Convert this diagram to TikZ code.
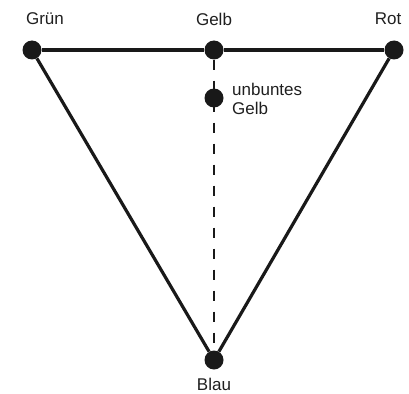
\documentclass[tikz,border=0pt]{standalone}
\usepackage{fontspec}
\setmainfont{Liberation Sans}
\usepackage{tikz}

\begin{document}
\begin{tikzpicture}[x=1pt, y=-1pt, every node/.style={font=\fontsize{17}{18.5}\selectfont, text=black!88, inner sep=1pt},
  dot/.style={circle, fill=black!90, inner sep=0pt, minimum size=19pt},
  edge/.style={line width=3.2pt, black!90}]
\useasboundingbox (0,0) rectangle (409,393);
% Farbpunkte
\node[dot] (gruen) at (32,50) {};
\node[dot] (gelb) at (214,50) {};
\node[dot] (rot) at (394,50) {};
\node[dot] (blau) at (214,360) {};
\node[dot] (unbunt) at (214,98) {};
% Beschriftungen
\node (gruenlbl) at (45,19) {Grün};
\node (gelblbl) at (214,19) {Gelb};
\node (rotlbl) at (388,19) {Rot};
\node (blaulbl) at (214,384) {Blau};
\node[anchor=west, align=left, inner sep=0pt] (unbuntlbl) at (232,99) {unbuntes\\Gelb};
% Dreieck
\draw[edge] (gruen) -- (gelb); \draw[edge] (gelb) -- (rot);
\draw[edge] (gruen) -- (blau); \draw[edge] (rot) -- (blau);
\draw[line width=1.8pt, black!90, dash pattern=on 10pt off 11pt] (gelb) -- (blau);
\end{tikzpicture}
\end{document}
